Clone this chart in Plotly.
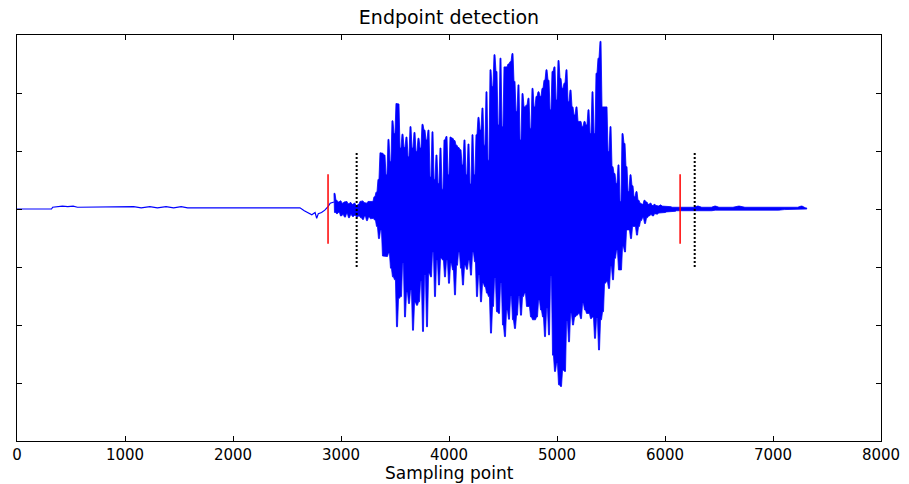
import plotly.graph_objects as go

# ---------------- data ----------------
# silent lead-in (sample index, amplitude)
head_x = [0, 320, 330, 380, 420, 470, 520, 560, 1000, 1080, 1150, 1230, 1300, 1380,
          1450, 1520, 1580, 2620, 2660, 2700, 2730, 2760, 2775, 2790, 2820, 2850,
          2880, 2900, 2935]
head_y = [0, 0, 0.003, 0.004, 0.005, 0.004, 0.005, 0.003, 0.003, 0.004, 0.002, 0.004,
          0.002, 0.004, 0.002, 0.004, 0.002, 0.002, -0.003, -0.007, -0.010, -0.006,
          -0.016, -0.008, -0.006, -0.002, 0.004, 0.010, 0.012]

# positive / negative peak of each pitch period in the speech part
env_start = 2935      # first peak sample
env_step = 18.52      # samples between peaks
env_top = [
    0.027, 0.015, 0.012, 0.014, 0.010, 0.012, 0.013, 0.009, 0.011, 0.008, 0.010, 0.006, 0.008,
    0.013, 0.014, 0.011, 0.010, 0.013, 0.012, 0.013,
    0.021, 0.029, 0.051, 0.097, 0.096, 0.093, 0.059, 0.120, 0.082, 0.152,
    0.130, 0.182, 0.181, 0.105, 0.129, 0.106, 0.124, 0.090, 0.142, 0.105,
    0.132, 0.099, 0.122, 0.105, 0.146, 0.136, 0.119, 0.136, 0.055, 0.133,
    0.051, 0.093, 0.044, 0.105, 0.034, 0.119, 0.125, 0.059, 0.124, 0.122,
    0.118, 0.110, 0.106, 0.102, 0.076, 0.119, 0.059, 0.112, 0.043, 0.128,
    0.059, 0.128, 0.158, 0.136, 0.174, 0.110, 0.202, 0.084, 0.240, 0.211,
    0.266, 0.237, 0.145, 0.260, 0.142, 0.245, 0.245, 0.250,
    0.254, 0.268, 0.220, 0.168, 0.214, 0.119, 0.199, 0.176, 0.179, 0.191,
    0.139, 0.208, 0.176, 0.194, 0.202, 0.194, 0.208, 0.222, 0.240, 0.222,
    0.171, 0.237, 0.245, 0.188, 0.256, 0.225, 0.208, 0.217, 0.240, 0.185,
    0.205, 0.176, 0.162, 0.176, 0.151, 0.151, 0.142, 0.151, 0.145, 0.171,
    0.130, 0.202, 0.130, 0.234, 0.260, 0.289, 0.176, 0.176, 0.176, 0.099,
    0.142, 0.073, 0.061, 0.044, 0.076, 0.013, 0.130, 0.113, 0.073, 0.030,
    0.059, 0.040, 0.021,
    0.030, 0.015, 0.010, 0.008, 0.015, 0.012, 0.008, 0.010, 0.006, 0.008,
    0.006, 0.005, 0.007, 0.005, 0.004, 0.005, 0.004, 0.004, 0.003, 0.004,
    0.003, 0.003, 0.004, 0.003, 0.003,
]
env_bot = [
    -0.006, -0.008, -0.006, -0.012, -0.010, -0.014, -0.008, -0.015, -0.010, -0.013, -0.011, -0.014, -0.012,
    -0.015, -0.018, -0.012, -0.020, -0.014, -0.017, -0.016,
    -0.019, -0.030, -0.051, -0.036, -0.081, -0.082, -0.082, -0.076, -0.102, -0.117,
    -0.122, -0.203, -0.154, -0.151, -0.094, -0.186, -0.143, -0.163, -0.140, -0.209,
    -0.161, -0.166, -0.160, -0.125, -0.211, -0.114, -0.203, -0.111, -0.117, -0.074,
    -0.151, -0.088, -0.131, -0.085, -0.088, -0.117, -0.088, -0.128, -0.094, -0.105,
    -0.148, -0.097, -0.074, -0.102, -0.131, -0.097, -0.104, -0.088, -0.114, -0.074,
    -0.091, -0.151, -0.114, -0.160, -0.128, -0.134, -0.145, -0.151, -0.214, -0.168,
    -0.120, -0.177, -0.180, -0.128, -0.200, -0.220, -0.174, -0.190,
    -0.151, -0.191, -0.206, -0.183, -0.151, -0.183, -0.151, -0.145, -0.168, -0.168,
    -0.186, -0.191, -0.191, -0.186, -0.157, -0.174, -0.186, -0.220, -0.171, -0.217,
    -0.117, -0.252, -0.280, -0.266, -0.303, -0.306, -0.278, -0.280, -0.194, -0.229,
    -0.180, -0.200, -0.186, -0.183, -0.180, -0.189, -0.163, -0.174, -0.180, -0.180,
    -0.189, -0.186, -0.223, -0.189, -0.243, -0.191, -0.177, -0.128, -0.125, -0.137,
    -0.099, -0.122, -0.085, -0.071, -0.105, -0.105, -0.065, -0.074, -0.036, -0.036,
    -0.051, -0.030, -0.030,
    -0.045, -0.030, -0.020, -0.015, -0.025, -0.015, -0.012, -0.010, -0.012, -0.008,
    -0.009, -0.007, -0.006, -0.007, -0.006, -0.005, -0.005, -0.004, -0.004, -0.004,
    -0.003, -0.003, -0.003, -0.003, -0.003,
]

# trailing low-level noise (peak envelope)
tail_x = [6215, 6260, 6300, 6340, 6380, 6420, 6460, 6500, 6560, 6620, 6680, 6740,
          6800, 6860, 6920, 6980, 7040, 7100, 7160, 7220, 7260, 7300]
tail_top = [0.004, 0.003, 0.005, 0.003, 0.004, 0.003, 0.005, 0.003, 0.004, 0.003,
            0.005, 0.003, 0.004, 0.003, 0.003, 0.004, 0.003, 0.003, 0.003, 0.003,
            0.005, 0.002]
tail_bot = [-0.003, -0.002, -0.003, -0.002, -0.002, -0.003, -0.002, -0.002, -0.002,
            -0.002, -0.002, -0.002, -0.002, -0.001, -0.002, -0.001, -0.002, -0.001,
            -0.001, -0.001, -0.001, 0.0]

# detected endpoints
red_x = [2880, 6140]
red_half = 0.06
dot_x = [3145, 6275]
dot_half = 0.1

x_ticks = [0, 1000, 2000, 3000, 4000, 5000, 6000, 7000, 8000]
y_ticks = [-0.3, -0.2, -0.1, 0, 0.1, 0.2]

# ---------------- build the waveform outline ----------------
band_x = [env_start + k * env_step for k in range(len(env_top))] + tail_x
band_top = env_top + tail_top
band_bot = env_bot + tail_bot
w = env_step / 2   # width of each peak plateau

top_x, top_y, bot_x, bot_y = [], [], [], []
for x0, t, b in zip(band_x, band_top, band_bot):
    top_x += [x0, x0 + w]
    top_y += [t, t]
    bot_x += [x0 + w / 2, x0 + w * 1.5]
    bot_y += [b, b]
poly_x = top_x + bot_x[::-1] + [top_x[0]]
poly_y = top_y + bot_y[::-1] + [top_y[0]]

BLUE = "#0000FF"

def vlines(xs, half):
    X, Y = [], []
    for x in xs:
        X += [x, x, None]
        Y += [-half, half, None]
    return X, Y

fig = go.Figure()
fig.add_trace(go.Scatter(x=head_x, y=head_y, mode="lines",
                         line=dict(color=BLUE, width=1.2), showlegend=False,
                         hoverinfo="skip"))
fig.add_trace(go.Scatter(x=poly_x, y=poly_y, mode="lines", fill="toself",
                         fillcolor=BLUE, line=dict(color=BLUE, width=0.8),
                         showlegend=False, hoverinfo="skip"))
rx, ry = vlines(red_x, red_half)
fig.add_trace(go.Scatter(x=rx, y=ry, mode="lines",
                         line=dict(color="#FF0000", width=1.5), showlegend=False))
dx, dy = vlines(dot_x, dot_half)
fig.add_trace(go.Scatter(x=dx, y=dy, mode="lines",
                         line=dict(color="#000000", width=2, dash="2px,2px"),
                         showlegend=False))

font_family = "DejaVu Sans"
fig.update_layout(
    width=909, height=484,
    margin=dict(l=17, r=28, t=35, b=43, autoexpand=False),
    paper_bgcolor="white", plot_bgcolor="white",
    title=dict(text="Endpoint detection", x=0.5, xref="paper", xanchor="center",
               y=1 - 17 / 484, yref="container", yanchor="middle", automargin=False,
               font=dict(family=font_family, size=19, color="black")),
    font=dict(family=font_family, color="black"),
    annotations=[dict(text="Sampling point", xref="paper", yref="paper",
                      x=0.5, y=-43 / 406, xanchor="center", yanchor="bottom",
                      showarrow=False, borderpad=0,
                      font=dict(family=font_family, size=17, color="black"))],
)
fig.update_xaxes(range=[0, 8000], tickvals=x_ticks, ticktext=[str(v) for v in x_ticks],
                 ticks="inside", ticklen=5, tickcolor="black", mirror="ticks",
                 showline=True, linecolor="black", linewidth=1, showgrid=False,
                 zeroline=False, ticklabelstandoff=0, automargin=False,
                 tickfont=dict(family=font_family, size=15, color="black"))
fig.update_yaxes(range=[-0.4, 0.3], tickvals=y_ticks, showticklabels=False,
                 ticks="inside", ticklen=5, tickcolor="black", mirror="ticks",
                 showline=True, linecolor="black", linewidth=1, showgrid=False,
                 zeroline=False, automargin=False)

fig.write_html("out.html")
